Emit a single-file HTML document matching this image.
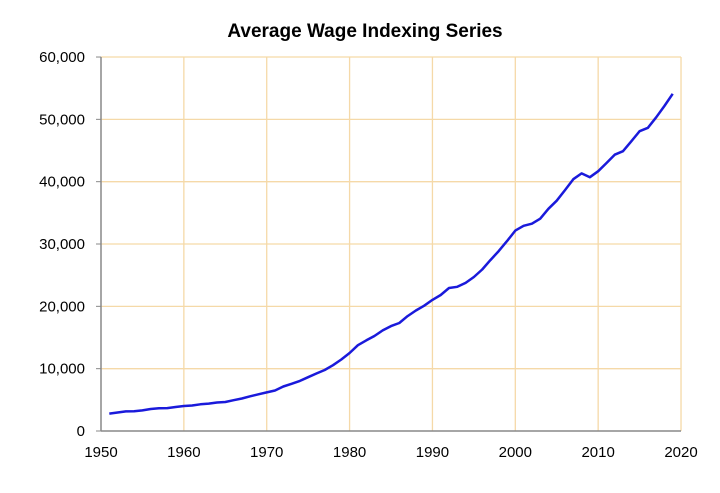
<!DOCTYPE html>
<html><head><meta charset="utf-8"><style>
body{margin:0;background:#fff;width:720px;height:488px;overflow:hidden}
svg text{font-family:"Liberation Sans",Arial,sans-serif;fill:#000}
</style></head><body>
<svg id="s" width="720" height="488" xmlns="http://www.w3.org/2000/svg">
<text x="365" y="37" text-anchor="middle" font-size="19" font-weight="bold">Average Wage Indexing Series</text>
<g id="grid" stroke="#f5d9a8" stroke-width="1.3"></g>
<line x1="101" y1="57" x2="101" y2="431" stroke="#888" stroke-width="1.5"/>
<line x1="101" y1="431" x2="681" y2="431" stroke="#888" stroke-width="1.5"/>
<g id="lab" font-size="15"></g>
<polyline id="p" fill="none" stroke="#1a1adb" stroke-width="2.5" stroke-linejoin="round"/>
</svg>
<script>
var d=[2799,2973,3139,3155,3301,3532,3641,3673,3855,4007,4087,4291,4397,4576,4659,4938,5213,5572,5894,6186,6497,7133,7580,8031,8631,9226,9779,10556,11479,12513,13773,14531,15239,16135,16823,17322,18427,19334,20100,21028,21812,22935,23133,23754,24706,25914,27426,28861,30470,32155,32922,33252,34065,35649,36953,38651,40405,41335,40712,41674,42979,44322,44888,46481,48098,48642,50322,52146,54099];
function X(y){return 101+(y-1950)*8.286}function Y(v){return 431-v*0.006233}
var pts=d.map(function(v,i){return X(1951+i).toFixed(1)+","+Y(v).toFixed(1)}).join(" ");
document.getElementById("p").setAttribute("points",pts);
var g=document.getElementById("grid"),l=document.getElementById("lab"),ns="http://www.w3.org/2000/svg",h="";
for(var i=1;i<=6;i++){var y=Y(i*10000);h+='<line x1="101" y1="'+y+'" x2="681" y2="'+y+'"/>';}
for(var i=1;i<=7;i++){var x=X(1950+i*10);h+='<line x1="'+x+'" y1="57" x2="'+x+'" y2="431"/>';}
g.innerHTML=h;var t="";
for(var i=0;i<=6;i++){var y=Y(i*10000);t+='<text x="85" y="'+(y+5)+'" text-anchor="end">'+(i?(i*10)+",000":"0")+'</text><line x1="96" y1="'+y+'" x2="101" y2="'+y+'" stroke="#888"/>';}
for(var i=0;i<=7;i++){var x=X(1950+i*10);t+='<text x="'+x+'" y="457" text-anchor="middle">'+(1950+i*10)+'</text>';}
l.innerHTML=t;
</script>
</body></html>
